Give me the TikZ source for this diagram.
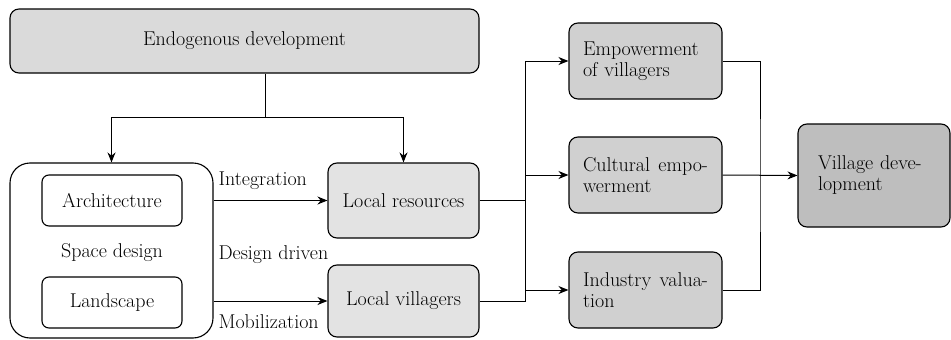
\documentclass[tikz,border=0pt]{standalone}
\usepackage{fontspec}
\usetikzlibrary{arrows.meta}
\definecolor{topgray}{HTML}{DADADA}
\definecolor{resgray}{HTML}{E3E3E3}
\definecolor{midgray}{HTML}{D0D0D0}
\definecolor{endgray}{HTML}{BEBEBE}
\begin{document}
\begin{tikzpicture}[x=1pt,y=-1pt,
    font=\fontsize{20}{21}\selectfont,
    box/.style={draw,line width=1.1pt,rounded corners=9pt,inner sep=0pt},
    lbox/.style={box,fill=midgray,align=left,text width=125pt,minimum width=153pt,minimum height=76pt},
    conn/.style={line width=1pt},
    arr/.style={conn,-{Stealth[length=10pt,width=8pt]}}]
        \useasboundingbox (0,0) rectangle (951,340);
        % top
        \node[box,fill=topgray,minimum width=469pt,minimum height=64pt] (endo) at (244.5,41) {Endogenous development};
        \coordinate (split) at (265,117);
        % left column
        \node[box,rounded corners=20pt,minimum width=203pt,minimum height=175pt] (space) at (111.5,250.5) {};
        \node[box,rounded corners=7pt,minimum width=140pt,minimum height=51pt] (arch) at (112,200.5) {Architecture};
        \node (sd) at (112,253) {Space design};
        \node[box,rounded corners=7pt,minimum width=140pt,minimum height=51pt] (land) at (112,302.5) {Landscape};
        \node[box,fill=resgray,minimum width=151pt,minimum height=75pt] (res) at (403.5,200.5) {Local resources};
        \node[box,fill=resgray,minimum width=151pt,minimum height=72pt] (vil) at (403.5,301) {Local villagers};
        \node[anchor=west] (integ) at (215,181) {Integration};
        \node[anchor=west] (drive) at (215,255) {Design driven};
        \node[anchor=west] (mobil) at (215,322) {Mobilization};
        % right column
        \node[lbox] (emp) at (645.5,61) {Empowerment\\of villagers};
        \node[lbox] (cult) at (645.5,175) {Cultural\hfill empo-\\werment};
        \node[lbox] (ind) at (645.5,290) {Industry\hfill valua-\\tion};
        \node[box,fill=endgray,align=left,text width=112pt,minimum width=152pt,minimum height=103pt] (vdev) at (874,175.5) {Village deve-\\lopment};
        \coordinate (jn) at (525,175);
        \coordinate (jo) at (760,175);
        % connectors
        \draw[conn] (endo.south -| split) -- (split);
        \draw[arr] (split) -| (space.north);
        \draw[arr] (split) -| (res.north);
        \draw[arr] (arch -| space.east) -- (res.west);
        \draw[arr] (vil.west -| space.east) -- (vil.west);
        \draw[conn] (res.east) -- (res.east -| jn);
        \draw[conn] (vil.east) -- (vil.east -| jn) -- (emp.west -| jn);
        \draw[arr] (emp.west -| jn) -- (emp.west);
        \draw[arr] (cult.west -| jn) -- (cult.west);
        \draw[arr] (ind.west -| jn) -- (ind.west);
        \draw[conn] (emp.east) -| (jo) |- (ind.east);
        \draw[arr] (cult.east) -- (vdev.west);
\end{tikzpicture}
\end{document}
